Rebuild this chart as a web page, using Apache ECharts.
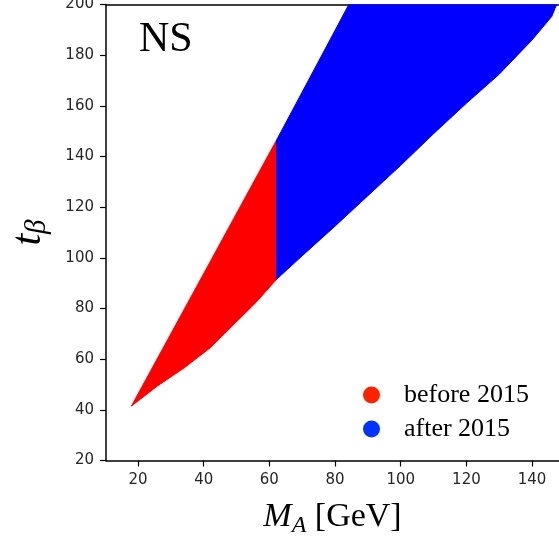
<!DOCTYPE html>
<html>
<head>
<meta charset="utf-8">
<script src="https://cdn.jsdelivr.net/npm/echarts@6/dist/echarts.min.js"></script>
<style>
html,body{margin:0;padding:0;background:#fff;}
#chart{width:559px;height:537px;}
</style>
</head>
<body>
<div id="chart"></div>
<script>
// Series names
const seriesNames = ['before 2015', 'after 2015'];
// Outline vertices [M_A, t_beta] of the "before 2015" region
const beforeRegion = [
  [18, 41.5], [62.2, 146.5], [62.2, 91.5], [56, 82.5], [49, 73.5],
  [42, 64.5], [34, 56.5], [26, 49.5]
];
// Outline vertices [M_A, t_beta] of the "after 2015" region
const afterRegion = [
  [62.2, 146.5], [84.2, 200], [147.5, 200], [147, 198.5], [146, 195.3],
  [140, 186], [130, 172.5], [120, 161], [110, 149], [100, 136.5],
  [90, 124.5], [80, 112.5], [70, 100.8], [62.2, 91.5]
];
// Tick values
const xTicks = [20, 40, 60, 80, 100, 120, 140];
const yTicks = [20, 40, 60, 80, 100, 120, 140, 160, 180, 200];
const xRange = [10.25, 148.2];
const yRange = [20, 200];

const chart = echarts.init(document.getElementById('chart'), null, {renderer: 'canvas'});

function polySeries(name, pts, color) {
  return {
    type: 'custom',
    name: name,
    clip: true,
    data: pts,
    encode: {x: 0, y: 1},
    itemStyle: {color: color},
    renderItem: function (params, api) {
      if (params.dataIndex !== 0) return;
      const coords = pts.map(p => api.coord(p));
      return {
        type: 'polygon',
        shape: {points: coords},
        style: {fill: color, stroke: color, lineWidth: 1}
      };
    }
  };
}

const tickLabelStyle = {fontFamily: 'DejaVu Sans', fontSize: 15, color: '#262626'};

chart.setOption({
  animation: false,
  backgroundColor: '#ffffff',
  title: {
    text: 'NS',
    left: 134, top: 14,
    textStyle: {fontFamily: 'Liberation Serif', fontSize: 42, fontWeight: 'normal', color: '#000'}
  },
  grid: {left: 106, right: 0, top: 4.5, bottom: 76.5, show: false, containLabel: false, outerBoundsMode: 'none'},
  legend: {
    orient: 'vertical',
    left: 358, top: 377,
    itemWidth: 17, itemHeight: 17,
    itemGap: 8,
    icon: 'circle',
    textStyle: {fontFamily: 'Liberation Serif', fontSize: 26, color: '#000', padding: [0, 0, 0, 19]},
    data: [
      {name: seriesNames[0], itemStyle: {color: '#ff2200'}},
      {name: seriesNames[1], itemStyle: {color: '#0033ff'}}
    ]
  },
  xAxis: [{
    type: 'value',
    min: xRange[0], max: xRange[1],
    name: '{i|M}{s|A}{n| [GeV]}',
    nameLocation: 'middle',
    nameGap: 37,
    nameTextStyle: {
      rich: {
        i: {fontFamily: 'Liberation Serif', fontStyle: 'italic', fontSize: 34, lineHeight: 40, color: '#000'},
        s: {fontFamily: 'Liberation Serif', fontStyle: 'italic', fontSize: 24, lineHeight: 20, verticalAlign: 'bottom', color: '#000'},
        n: {fontFamily: 'Liberation Serif', fontSize: 34, lineHeight: 40, color: '#000'}
      }
    },
    axisLine: {show: true, onZero: false, lineStyle: {color: '#000', width: 1.5}},
    axisTick: {show: true, length: 6, customValues: xTicks, lineStyle: {color: '#000', width: 1.2}},
    axisLabel: Object.assign({customValues: xTicks, margin: 12}, tickLabelStyle),
    splitLine: {show: false}
  }, {
    type: 'value',
    position: 'top',
    min: xRange[0], max: xRange[1],
    axisLine: {show: true, onZero: false, lineStyle: {color: '#000', width: 1.5}},
    axisTick: {show: false},
    axisLabel: {show: false},
    splitLine: {show: false}
  }],
  yAxis: {
    type: 'value',
    min: yRange[0], max: yRange[1], interval: 20,
    name: '{i|t}{s|β}',
    nameLocation: 'middle',
    nameGap: 54,
    nameRotate: 90,
    nameTextStyle: {
      rich: {
        i: {fontFamily: 'Liberation Serif', fontStyle: 'italic', fontSize: 42, lineHeight: 46, color: '#000'},
        s: {fontFamily: 'Liberation Serif', fontStyle: 'italic', fontSize: 29, lineHeight: 22, verticalAlign: 'bottom', color: '#000'}
      }
    },
    axisLine: {show: true, onZero: false, lineStyle: {color: '#000', width: 1.5}},
    axisTick: {show: true, length: 6, lineStyle: {color: '#000', width: 1.2}},
    axisLabel: Object.assign({margin: 12}, tickLabelStyle),
    splitLine: {show: false}
  },
  series: [
    polySeries(seriesNames[0], beforeRegion, '#ff0000'),
    polySeries(seriesNames[1], afterRegion, '#0000ff')
  ]
});
</script>
</body>
</html>
